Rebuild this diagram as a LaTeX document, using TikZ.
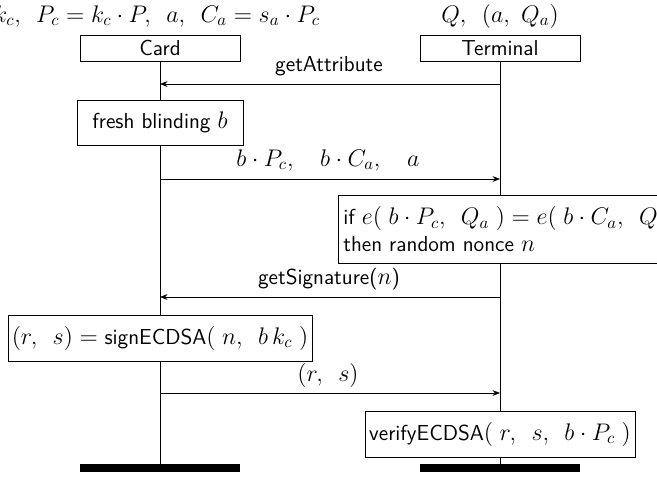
\documentclass[tikz,border=0pt]{standalone}
\usetikzlibrary{arrows.meta}
\newcommand\mth[1]{{\fontsize{13.6}{15.8}\selectfont$#1$}}
\begin{document}
\begin{tikzpicture}[x=0.6pt,y=-0.6pt,
  every node/.style={font=\sffamily\fontsize{13}{15.8}\selectfont},
  actor/.style={draw,fill=white,minimum width=96pt,minimum height=15.6pt,inner sep=0pt},
  act/.style={draw,fill=white,inner sep=0pt,align=left},
  msg/.style={-{Stealth[length=4.5pt,width=3.5pt]}},
  bar/.style={line width=4.8pt},
  lbl/.style={inner sep=0pt}]
\useasboundingbox (0,0) rectangle (657,476);
% header labels
\node[lbl] (cardinfo) at (157,16) {\mth{k_c,\ \,P_c = k_c\cdot P,\ \,a,\ \,C_a = s_a\cdot P_c}};
\node[lbl] (terminfo) at (500,16) {\mth{Q,\ \,(a,\ Q_a)}};
% lifeline end coordinates
\coordinate (cend) at (160,468);
\coordinate (tend) at (500,468);
\node[actor] (card) at (160,48) {Card};
\node[actor] (term) at (500,48) {Terminal};
\draw (card.south) -- (cend);
\draw (term.south) -- (tend);
% message coordinates
\coordinate (t1) at (500,84);  \coordinate (c1) at (160,84);
\coordinate (c2) at (160,179); \coordinate (t2) at (500,179);
\coordinate (t3) at (500,297); \coordinate (c3) at (160,297);
\coordinate (c4) at (160,393); \coordinate (t4) at (500,393);
\draw[msg] (t1) -- (c1);
\node[lbl] (m1) at (329,66) {getAttribute};
\node[act,minimum width=99.6pt,minimum height=27pt] (blind) at (160,122.5) {fresh blinding \mth{b}};
\draw[msg] (c2) -- (t2);
\node[lbl] (m2) at (328,160) {\mth{b\cdot P_c,\quad b\cdot C_a,\quad a}};
\node[act,anchor=west,minimum width=189.6pt,minimum height=40.8pt,inner xsep=3pt] (check) at (338,229) {if \mth{e(\;b\cdot P_c,\ \,Q_a\;) = e(\;b\cdot C_a,\ \,Q\;)}\\then random nonce \mth{n}};
\draw[msg] (t3) -- (c3);
\node[lbl] (m3) at (329,279) {getSignature(\mth{n})};
\node[act,minimum width=182.4pt,minimum height=27.6pt] (sign) at (160,338) {\mth{(r,\ \,s) = {}}signECDSA\mth{(\;n,\ \,b\,k_c\;)}};
\draw[msg] (c4) -- (t4);
\node[lbl] (m4) at (328,375) {\mth{(r,\ \,s)}};
\node[act,minimum width=162pt,minimum height=27.6pt] (verify) at (500,434) {verifyECDSA\mth{(\;r,\ \,s,\ \,b\cdot P_c\;)}};
% end bars
\coordinate (cb1) at (80,468);  \coordinate (cb2) at (240,468);
\coordinate (tb1) at (420,468); \coordinate (tb2) at (580,468);
\draw[bar] (cb1) -- (cb2);
\draw[bar] (tb1) -- (tb2);
\end{tikzpicture}
\end{document}
